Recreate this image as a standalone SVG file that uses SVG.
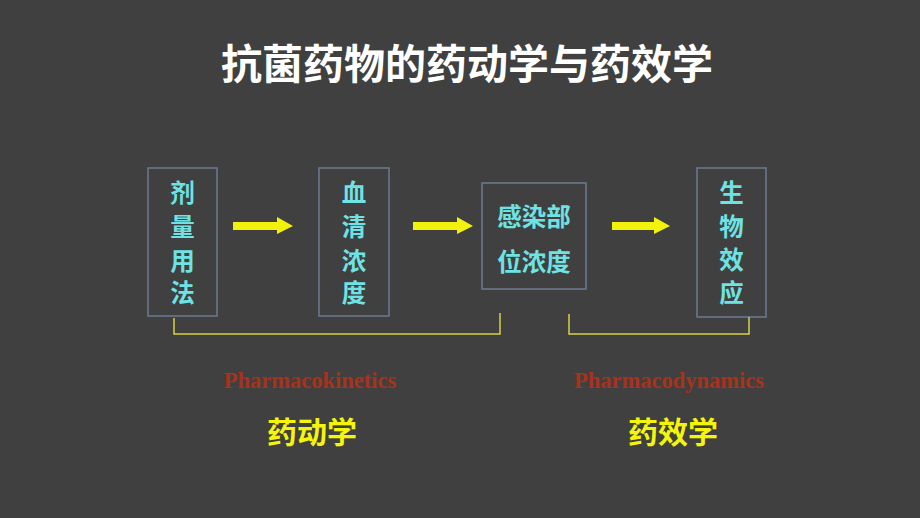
<svg xmlns="http://www.w3.org/2000/svg" width="920" height="518" viewBox="0 0 920 518">
<style>
.box{fill:none;stroke:#6c7a92;stroke-width:1.5}
.bt{font-family:"Noto Sans CJK SC","Noto Sans CJK JP",sans-serif;font-weight:bold;font-size:24.5px;fill:#6fe3e3;text-anchor:middle}
.arrow{fill:#f2f20c}
.br{fill:none;stroke:#d8cf45;stroke-width:1.5}
.en{font-family:"Liberation Serif","Times New Roman",serif;font-weight:bold;font-size:22.5px;fill:#a8321c;text-anchor:middle}
.cn{font-family:"Noto Sans CJK SC","Noto Sans CJK JP",sans-serif;font-weight:bold;font-size:30px;fill:#f5f50a;text-anchor:middle}
</style>
<rect width="920" height="518" fill="#404040"/>
<text id="title" x="467" y="79" font-family="'Noto Sans CJK SC','Noto Sans CJK JP',sans-serif" font-weight="bold" font-size="41" fill="#ffffff" text-anchor="middle">抗菌药物的药动学与药效学</text>
<g id="node1">
<rect class="box" x="148" y="168" width="69" height="148"/>
<text class="bt" x="182.5" y="202">剂</text>
<text class="bt" x="182.5" y="236">量</text>
<text class="bt" x="182.5" y="270">用</text>
<text class="bt" x="182.5" y="302">法</text>
</g>
<g id="node2">
<rect class="box" x="319" y="168" width="70" height="148"/>
<text class="bt" x="354" y="202">血</text>
<text class="bt" x="354" y="236">清</text>
<text class="bt" x="354" y="270">浓</text>
<text class="bt" x="354" y="302">度</text>
</g>
<g id="node3">
<rect class="box" x="482" y="183" width="104" height="106"/>
<text class="bt" x="534" y="226">感染部</text>
<text class="bt" x="534" y="271">位浓度</text>
</g>
<g id="node4">
<rect class="box" x="697" y="168" width="69" height="149"/>
<text class="bt" x="731.5" y="202">生</text>
<text class="bt" x="731.5" y="236">物</text>
<text class="bt" x="731.5" y="269">效</text>
<text class="bt" x="731.5" y="302">应</text>
</g>
<g id="connectors">
<polygon class="arrow" points="233,222 277,222 277,217 293,226 277,234 277,230 233,230"/>
<polygon class="arrow" points="413,222 457,222 457,217 473,226 457,234 457,230 413,230"/>
<polygon class="arrow" points="612,222 654,222 654,217 670,226 654,234 654,230 612,230"/>
<polyline class="br" points="174,318 174,334 500,334 500,313"/>
<polyline class="br" points="569,314 569,334 749,334 749,317"/>
</g>
<g id="labels">
<text class="en" x="310" y="388">Pharmacokinetics</text>
<text class="en" x="669" y="388">Pharmacodynamics</text>
<text class="cn" x="312" y="443">药动学</text>
<text class="cn" x="673" y="443">药效学</text>
</g>
</svg>
